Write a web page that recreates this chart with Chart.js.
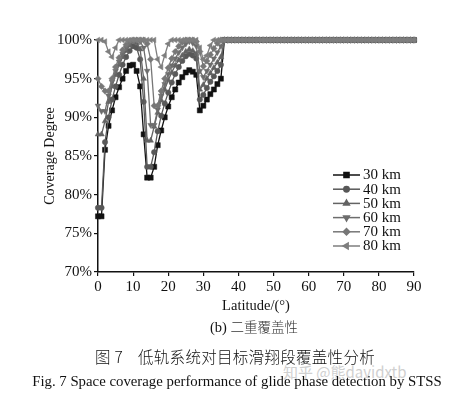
<!DOCTYPE html>
<html>
<head>
<meta charset="utf-8">
<script src="https://cdn.jsdelivr.net/npm/chart.js@4.4.1/dist/chart.umd.min.js"></script>
<style>
  body { margin: 0; background: #fff; }
  #wrap { position: relative; width: 474px; height: 394px; overflow: hidden; }
  #chart { position: absolute; left: 0; top: 0; }
  .txt { position: absolute; white-space: nowrap; color: #111; font-family: "Liberation Serif", "Noto Sans CJK SC", serif; }
</style>
</head>
<body>
<div id="wrap">
  <canvas id="chart" width="474" height="340"></canvas>
  <div class="txt" style="left:0;width:508px;text-align:center;top:317px;font-size:14.5px;line-height:18px;">(b) <span style="font-family:'Noto Sans CJK SC';font-size:13.5px;color:#333;font-weight:300">二重覆盖性</span></div>
  <div class="txt" style="left:283px;top:362px;font-size:15px;line-height:20px;color:#d0d0d0;font-family:'Noto Sans CJK SC',sans-serif;">知乎 @熊davidxtb</div>
  <div class="txt" style="left:95px;top:346px;font-size:15.5px;line-height:20px;letter-spacing:0.3px;font-family:'Noto Sans CJK SC';font-weight:300;">图 7&nbsp;&nbsp;&nbsp;&nbsp;低轨系统对目标滑翔段覆盖性分析</div>
  <div class="txt" style="left:0;width:474px;text-align:center;top:372px;font-size:14.8px;line-height:18px;">Fig. 7 Space coverage performance of glide phase detection by STSS</div>
</div>
<script>
// latitude in degrees, one point per degree
const LATITUDE = [
  0, 1, 2, 3, 4, 5, 6, 7, 8, 9, 10, 11, 12, 13, 14, 15, 16, 17, 18, 19,
  20, 21, 22, 23, 24, 25, 26, 27, 28, 29, 30, 31, 32, 33, 34, 35, 36, 37, 38, 39,
  40, 41, 42, 43, 44, 45, 46, 47, 48, 49, 50, 51, 52, 53, 54, 55, 56, 57, 58, 59,
  60, 61, 62, 63, 64, 65, 66, 67, 68, 69, 70, 71, 72, 73, 74, 75, 76, 77, 78, 79,
  80, 81, 82, 83, 84, 85, 86, 87, 88, 89, 90
];

// coverage (%) for latitude 37..90, identical for all altitudes
const TAIL = [
  100, 100, 100, 100, 100, 100, 100, 100, 100,
  100, 100, 100, 100, 100, 100, 100, 100, 100,
  100, 100, 100, 100, 100, 100, 100, 100, 100,
  100, 100, 100, 100, 100, 100, 100, 100, 100,
  100, 100, 100, 100, 100, 100, 100, 100, 100,
  100, 100, 100, 100, 100, 100, 100, 100, 100
];

// coverage (%) for latitude 0..36
const KM30 = [77.2, 77.2, 85.8, 88.9, 90.9, 92.6, 93.9, 95.0, 96.0, 96.7, 96.8, 96.0, 94.0, 87.8, 82.2, 82.2, 83.6, 86.4, 88.3,
  90.0, 91.4, 92.6, 93.6, 94.5, 95.2, 95.8, 96.1, 95.9, 95.5, 90.9, 91.5, 92.3, 93.0, 93.6, 94.3, 95.0, 100];
const KM40 = [78.3, 78.3, 86.8, 90.0, 92.3, 94.0, 95.5, 96.8, 97.8, 98.6, 99.2, 99.0, 97.5, 92.0, 83.6, 83.6, 85.5, 88.2, 90.2,
  91.8, 93.2, 94.5, 95.6, 96.5, 97.3, 97.9, 98.2, 98.0, 97.6, 92.3, 92.9, 93.8, 94.6, 95.3, 96.0, 96.8, 100];
const KM50 = [87.8, 87.8, 89.5, 92.0, 94.0, 95.5, 96.8, 97.8, 98.6, 99.3, 99.8, 99.6, 98.8, 95.0, 87.0, 87.0, 88.8, 90.6, 92.2,
  93.6, 94.8, 95.8, 96.7, 97.4, 98.0, 98.5, 98.8, 98.6, 98.2, 93.6, 94.2, 95.0, 95.7, 96.4, 97.1, 97.8, 100];
const KM60 = [91.5, 90.8, 90.8, 92.8, 94.6, 96.0, 97.2, 98.2, 99.0, 99.6, 100, 100, 99.8, 99.0, 96.0, 89.0, 89.0, 91.0, 92.8,
  94.3, 95.6, 96.7, 97.6, 98.4, 99.0, 99.5, 99.8, 99.6, 99.2, 96.0, 95.2, 96.0, 96.8, 97.6, 98.4, 99.2, 100];
const KM70 = [95.0, 94.0, 93.4, 93.4, 95.0, 96.5, 97.7, 98.7, 99.4, 99.9, 100, 100, 100, 100, 99.5, 97.5, 91.5, 91.5, 93.4,
  95.0, 96.4, 97.6, 98.5, 99.2, 99.7, 100, 100, 100, 99.8, 98.5, 96.6, 97.3, 98.1, 98.9, 99.6, 100, 100];
const KM80 = [100, 100, 99.8, 98.5, 97.8, 99.0, 100, 100, 100, 100, 100, 100, 100, 100, 100, 100, 100, 97.5, 96.5,
  98.0, 99.5, 100, 100, 100, 100, 100, 100, 100, 100, 99.0, 97.5, 98.0, 99.3, 100, 100, 100, 100];

const SERIES_LABELS = ['30 km', '40 km', '50 km', '60 km', '70 km', '80 km'];
const Y_TICKS = [70, 75, 80, 85, 90, 95, 100];

const SERIF = '"Liberation Serif", "Times New Roman", serif';

function toPoints(head) {
  const values = head.concat(TAIL);
  return LATITUDE.map((lat, i) => ({ x: lat, y: values[i] }));
}

function series(label, head, color, pointStyle, radius, order, rotation = 0) {
  return {
    label,
    data: toPoints(head),
    borderColor: color,
    backgroundColor: color,
    borderWidth: 1.3,
    pointStyle,
    pointRadius: radius,
    pointRotation: rotation,
    pointBorderWidth: 0.5,
    tension: 0,
    clip: false,
    order
  };
}

// line + marker legend, like the original plot
const lineLegend = {
  id: 'lineLegend',
  afterDraw(chart) {
    const { ctx, chartArea } = chart;
    const x0 = chartArea.right - 81;
    const y0 = chartArea.top + 135;
    chart.data.datasets.forEach((ds, i) => {
      const y = y0 + i * 14.2;
      ctx.save();
      ctx.strokeStyle = ds.borderColor;
      ctx.fillStyle = ds.backgroundColor;
      ctx.lineWidth = 1.5;
      ctx.beginPath();
      ctx.moveTo(x0, y);
      ctx.lineTo(x0 + 27, y);
      ctx.stroke();
      Chart.helpers.drawPoint(ctx, {
        pointStyle: ds.pointStyle,
        radius: ds.pointRadius,
        rotation: ds.pointRotation,
        borderWidth: 0.5
      }, x0 + 13.5, y);
      ctx.fillStyle = '#111';
      ctx.font = '15px ' + SERIF;
      ctx.textBaseline = 'middle';
      ctx.fillText(ds.label, x0 + 30, y + 0.5);
      ctx.restore();
    });
  }
};

new Chart(document.getElementById('chart'), {
  type: 'line',
  data: {
    datasets: [
      series(SERIES_LABELS[0], KM30, '#111111', 'rect', 3.6, 5),
      series(SERIES_LABELS[1], KM40, '#585858', 'circle', 2.7, 4),
      series(SERIES_LABELS[2], KM50, '#636363', 'triangle', 3.3, 3),
      series(SERIES_LABELS[3], KM60, '#6d6d6d', 'triangle', 3.3, 2, 180),
      series(SERIES_LABELS[4], KM70, '#777777', 'rectRot', 3.2, 1),
      series(SERIES_LABELS[5], KM80, '#7e7e7e', 'triangle', 3.3, 0, -90)
    ]
  },
  options: {
    responsive: false,
    animation: false,
    layout: { padding: { top: 40, right: 60, left: 40, bottom: 16 } },
    plugins: { legend: { display: false }, tooltip: { enabled: false } },
    scales: {
      x: {
        type: 'linear',
        min: 0,
        max: 90,
        afterFit: scale => { scale.height = 52; },
        border: { color: '#111', width: 1.5 },
        grid: { drawOnChartArea: false, tickLength: 4, color: '#111', lineWidth: 1.2 },
        ticks: {
          stepSize: 5,
          padding: 2,
          color: '#111',
          font: { family: SERIF, size: 15 },
          maxRotation: 0,
          callback: v => (v % 10 === 0 ? String(v) : '')
        },
        title: {
          display: true,
          text: 'Latitude/(°)',
          color: '#111',
          font: { family: SERIF, size: 14.5 },
          padding: { top: 0, bottom: 9 }
        }
      },
      y: {
        min: 70,
        max: 100,
        afterFit: scale => { scale.width = 58; },
        afterBuildTicks: scale => {
          // labelled every 5 %, minor tick in between
          const ticks = [];
          Y_TICKS.forEach((v, i) => {
            ticks.push({ value: v });
            if (i < Y_TICKS.length - 1) ticks.push({ value: v + 2.5 });
          });
          scale.ticks = ticks;
        },
        border: { color: '#111', width: 1.5 },
        grid: { drawOnChartArea: false, tickLength: 4, color: '#111', lineWidth: 1.2 },
        ticks: {
          padding: 2,
          color: '#111',
          font: { family: SERIF, size: 15 },
          callback: v => (Y_TICKS.includes(v) ? v + '%' : '')
        },
        title: {
          display: true,
          text: 'Coverage Degree',
          color: '#111',
          font: { family: SERIF, size: 14 },
          padding: { top: 2, bottom: 0 }
        }
      }
    }
  },
  plugins: [lineLegend]
});
</script>
</body>
</html>
